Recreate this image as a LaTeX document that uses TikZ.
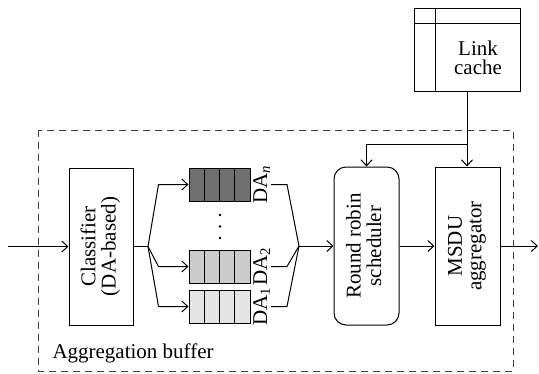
\documentclass[tikz,border=0pt]{standalone}
\usepackage{fontspec}
\setmainfont{Liberation Serif}
\usepackage{graphicx}
\usetikzlibrary{arrows.meta,calc}
\begin{document}
\begin{tikzpicture}[x=1pt,y=-1pt,
  font=\fontsize{21}{19.5}\selectfont,
  every path/.style={line width=1pt},
  arr/.style={-{Straight Barb[length=6pt,width=11pt,line width=1pt]}},
  frame/.style={draw=black!75, dash pattern=on 7pt off 5pt},
  block/.style={draw, inner sep=0pt, minimum width=65pt, minimum height=158pt},
  queue/.style={draw, fill=#1, inner sep=0pt, minimum width=61pt, minimum height=33pt,
    path picture={
      \foreach \k in {1,2,3}{
        \draw ($(path picture bounding box.south west)!\k/4!(path picture bounding box.south east)$) --
              ($(path picture bounding box.north west)!\k/4!(path picture bounding box.north east)$);
      }}},
  dalabel/.style={rotate=90, anchor=base, inner sep=0pt}
]
\useasboundingbox (0,0) rectangle (539,373);

% aggregation buffer frame
\draw[frame] (38,130) rectangle (513,371);
\node[anchor=base west, inner sep=0pt] (aggl) at (52,358) {Aggregation buffer};

% classifier
\node[block, minimum width=64pt, minimum height=157pt] (cls) at (101,246.5)
  {\rotatebox{90}{\begin{tabular}{@{}c@{}}Classifier\\(DA-based)\end{tabular}}};

% queues
\node[queue=black!56] (qn) at (219.5,184.5) {};
\node[queue=black!20] (q2) at (219.5,266.5) {};
\node[queue=black!10] (q1) at (219.5,306.5) {};

\node[dalabel] (dan) at (267,184.5) {DA\textsubscript{\itshape n}};
\node[dalabel] (da2) at (267,266.5) {DA\textsubscript{2}};
\node[dalabel] (da1) at (267,306.5) {DA\textsubscript{1}};

% dots
\fill (220,215) circle (1.3pt);
\fill (220,226.5) circle (1.3pt);
\fill (220,238) circle (1.3pt);

% scheduler and aggregator
\node[block, rounded corners=12pt] (sch) at (366.5,246)
  {\rotatebox{90}{\begin{tabular}{@{}c@{}}Round robin\\scheduler\end{tabular}}};
\node[block] (msdu) at (467.5,246)
  {\rotatebox{90}{\begin{tabular}{@{}c@{}}MSDU\\aggregator\end{tabular}}};

% link cache
\node[draw, inner sep=0pt, minimum width=106pt, minimum height=83pt] (lc) at (467,49.5) {};
\draw ([xshift=22pt]lc.north west) -- ([xshift=22pt]lc.south west);
\draw ([yshift=-16pt]lc.north west) -- ([yshift=-16pt]lc.north east);
\node[align=center, inner sep=0pt] (lct) at (478,58) {Link\\cache};

% coordinates
\coordinate (in) at (8,246.5);
\coordinate (split) at (148,246.5);
\coordinate (merge) at (299,246);
\coordinate (out) at (538,246);
\coordinate (br) at (lc.south |- 0,144);

% connectors
\draw[arr] (in) -- (cls.west);
\draw (cls.east) -- (split);
\draw[arr] (split) -- ([xshift=-30pt]qn.west) -- (qn.west);
\draw[arr] (split) -- ([xshift=-30pt]q2.west) -- (q2.west);
\draw[arr] (split) -- ([xshift=-30pt]q1.west) -- (q1.west);
\draw ([xshift=4pt]dan.base) -- ([xshift=20pt]dan.base) -- (merge);
\draw ([xshift=4pt]da2.base) -- ([xshift=20pt]da2.base) -- (merge);
\draw ([xshift=4pt]da1.base) -- ([xshift=20pt]da1.base) -- (merge);
\draw[arr] (merge) -- (sch.west);
\draw[arr] (sch.east) -- (msdu.west);
\draw[arr] (msdu.east) -- (out);
\draw[arr] (lc.south) -- (lc.south |- msdu.north);
\draw[arr] (br) -| (sch.north);
\end{tikzpicture}
\end{document}
